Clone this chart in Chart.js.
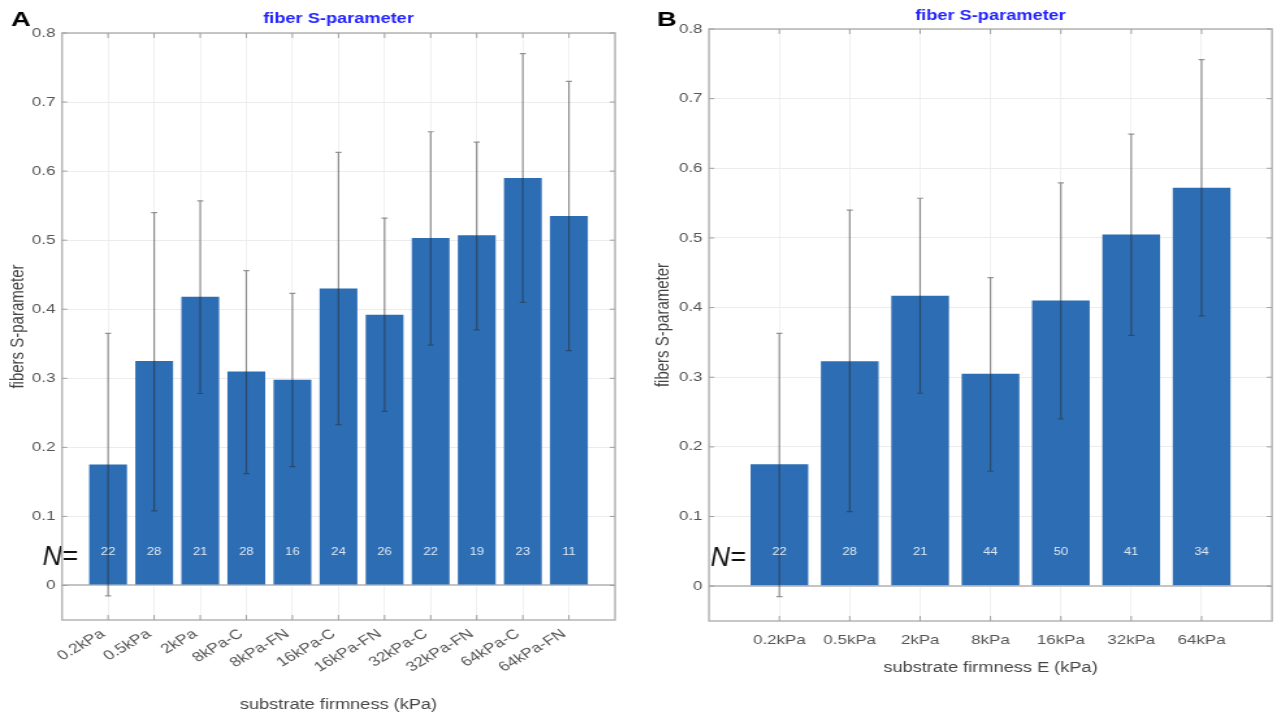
<!DOCTYPE html>
<html>
<head>
<meta charset="utf-8">
<script src="https://cdn.jsdelivr.net/npm/chart.js@4.4.1/dist/chart.umd.min.js"></script>
<style>
  body { margin: 0; background: #fff; overflow: hidden; }
  #wrap { position: relative; width: 1276px; height: 714px; }
  .panel { position: absolute; top: 0; height: 714px; transform-origin: 0 0; }
</style>
</head>
<body>
<div id="wrap">
  <div class="panel" id="pA"><canvas id="chartA"></canvas></div>
  <div class="panel" id="pB"><canvas id="chartB"></canvas></div>
</div>
<script>
// panel A: all conditions
const labelsA = ["0.2kPa", "0.5kPa", "2kPa", "8kPa-C", "8kPa-FN", "16kPa-C", "16kPa-FN", "32kPa-C", "32kPa-FN", "64kPa-C", "64kPa-FN"];
const meanA = [0.175, 0.325, 0.418, 0.310, 0.298, 0.430, 0.392, 0.503, 0.507, 0.590, 0.535];
const lowA  = [-0.015, 0.108, 0.278, 0.162, 0.172, 0.233, 0.252, 0.348, 0.370, 0.410, 0.340];
const highA = [0.365, 0.540, 0.557, 0.456, 0.423, 0.627, 0.532, 0.657, 0.642, 0.770, 0.730];
const countA = [22, 28, 21, 28, 16, 24, 26, 22, 19, 23, 11];

// panel B: pooled by stiffness
const labelsB = ["0.2kPa", "0.5kPa", "2kPa", "8kPa", "16kPa", "32kPa", "64kPa"];
const meanB = [0.175, 0.323, 0.417, 0.305, 0.410, 0.505, 0.572];
const lowB  = [-0.015, 0.107, 0.277, 0.165, 0.240, 0.360, 0.388];
const highB = [0.363, 0.540, 0.557, 0.443, 0.579, 0.649, 0.756];
const countB = [22, 28, 21, 44, 50, 41, 34];

const yTicks = [0, 0.1, 0.2, 0.3, 0.4, 0.5, 0.6, 0.7, 0.8];

const FONT = "'Liberation Sans', Arial, Helvetica, sans-serif";
const BAR = '#2d6db4';
// the source figure is stretched sideways, so each panel is drawn narrow and widened with css
const SX = 1.3;

const pA = document.getElementById('pA');
pA.style.left = '0px'; pA.style.width = (640 / SX) + 'px'; pA.style.transform = 'scaleX(' + SX + ')';
const pB = document.getElementById('pB');
pB.style.left = '640px'; pB.style.width = (636 / SX) + 'px'; pB.style.transform = 'scaleX(' + SX + ')';

// error bars, N= counts, title, box and inner ticks
const extras = {
  id: 'extras',
  afterDatasetsDraw(chart, args, o) {
    const ctx = chart.ctx, xs = chart.scales.x, ys = chart.scales.y;
    const a = chart.chartArea;
    ctx.save();
    // error bars
    ctx.strokeStyle = 'rgba(40,40,40,0.5)';
    ctx.lineWidth = 1.2;
    o.low.forEach((lo, i) => {
      const x = xs.getPixelForValue(i + 1);
      const y1 = ys.getPixelForValue(lo), y2 = ys.getPixelForValue(o.high[i]);
      ctx.beginPath();
      ctx.moveTo(x, y1); ctx.lineTo(x, y2);
      ctx.moveTo(x - 2.3, y1); ctx.lineTo(x + 2.3, y1);
      ctx.moveTo(x - 2.3, y2); ctx.lineTo(x + 2.3, y2);
      ctx.stroke();
    });
    // counts inside bars
    ctx.fillStyle = 'rgba(255,255,255,0.85)';
    ctx.font = '10px ' + FONT;
    ctx.textAlign = 'center';
    ctx.textBaseline = 'middle';
    o.counts.forEach((n, i) => {
      ctx.fillText(String(n), xs.getPixelForValue(i + 1), ys.getPixelForValue(0.048));
    });
    // N= label, drawn without the sideways stretch
    ctx.save();
    ctx.scale(1 / SX, 1);
    ctx.fillStyle = '#111';
    ctx.font = 'italic 27px ' + FONT;
    ctx.textAlign = 'left';
    ctx.fillText('N=', xs.getPixelForValue(o.nX) * SX, ys.getPixelForValue(0.04));
    ctx.restore();
    // box
    ctx.strokeStyle = '#b4b4b4';
    ctx.lineWidth = 1.5;
    ctx.strokeRect(a.left, a.top, a.right - a.left, a.bottom - a.top);
    // inner tick marks, matlab style
    ctx.lineWidth = 1;
    ctx.strokeStyle = '#a0a0a0';
    ctx.beginPath();
    for (let i = 1; i <= o.counts.length; i++) {
      const x = xs.getPixelForValue(i);
      ctx.moveTo(x, a.top); ctx.lineTo(x, a.top + 5);
      ctx.moveTo(x, a.bottom); ctx.lineTo(x, a.bottom - 5);
    }
    yTicks.forEach(v => {
      const y = ys.getPixelForValue(v);
      ctx.moveTo(a.left, y); ctx.lineTo(a.left + 4, y);
      ctx.moveTo(a.right, y); ctx.lineTo(a.right - 4, y);
    });
    ctx.stroke();
    // title and panel letter
    ctx.fillStyle = '#2222ff';
    ctx.font = 'bold 14px ' + FONT;
    ctx.textAlign = 'center';
    ctx.fillText('fiber S-parameter', (a.left + a.right) / 2, o.titleY);
    ctx.fillStyle = '#000';
    ctx.font = 'bold 21px ' + FONT;
    ctx.textAlign = 'left';
    ctx.fillText(o.letter, o.letterX / SX, 20);
    ctx.restore();
  }
};

function makeChart(id, labels, mean, low, high, counts, opt) {
  const pts = mean.map((v, i) => ({ x: i + 1, y: v }));
  const pad = opt.padding;
  return new Chart(document.getElementById(id), {
    type: 'bar',
    data: {
      datasets: [{
        data: pts,
        backgroundColor: BAR,
        borderWidth: 0,
        barPercentage: 0.82,
        categoryPercentage: 1
      }]
    },
    plugins: [extras],
    options: {
      responsive: true,
      maintainAspectRatio: false,
      animation: false,
      layout: { padding: { left: 0, right: pad.right / SX, top: pad.top, bottom: pad.bottom } },
      plugins: {
        legend: { display: false },
        tooltip: { enabled: false },
        extras: { low: low, high: high, counts: counts, letter: opt.letter, letterX: opt.letterX, nX: opt.nX, titleY: opt.titleY }
      },
      scales: {
        x: {
          type: 'linear',
          offset: false,
          min: 0,
          max: labels.length + 1,
          afterFit: s => { s.height = opt.xHeight; },
          afterBuildTicks: s => { s.ticks = labels.map((l, i) => ({ value: i + 1 })); },
          ticks: {
            autoSkip: false,
            minRotation: opt.rot,
            maxRotation: opt.rot,
            padding: opt.xPad,
            labelOffset: opt.labelShift / SX,
            color: '#555',
            font: { family: FONT, size: opt.xFont },
            callback: v => labels[v - 1] || ''
          },
          grid: { color: '#ececec', lineWidth: 0.8, drawTicks: false, offset: false },
          border: { display: false },
          title: {
            display: true,
            text: opt.xTitle,
            color: '#444',
            font: { family: FONT, size: 14 },
            padding: { top: 0, bottom: opt.xTitlePad }
          }
        },
        y: {
          min: -0.05,
          max: 0.8,
          afterFit: s => { s.width = opt.yWidth / SX; },
          afterBuildTicks: s => { s.ticks = yTicks.map(v => ({ value: v })); },
          ticks: {
            padding: 5,
            color: '#555',
            font: { family: FONT, size: 13 },
            callback: v => String(Math.round(v * 10) / 10)
          },
          grid: {
            drawTicks: false,
            color: c => c.tick && c.tick.value === 0 ? '#c4c4c4' : '#ececec',
            lineWidth: c => c.tick && c.tick.value === 0 ? 2 : 1
          },
          border: { display: false },
          title: {
            display: true,
            text: 'fibers S-parameter',
            color: '#444',
            font: { family: FONT, size: 15 },
            padding: { top: opt.yTitlePad, bottom: 0 }
          }
        }
      }
    }
  });
}

makeChart('chartA', labelsA, meanA, lowA, highA, countA, {
  padding: { right: 25, top: 33, bottom: 0 },
  yWidth: 62, xHeight: 94, rot: 37, xPad: 6, labelShift: -5, xFont: 13.5,
  xTitle: 'substrate firmness (kPa)', xTitlePad: 0,
  yTitlePad: 5, letter: 'A', letterX: 11, nX: -0.42, titleY: 19
});

makeChart('chartB', labelsB, meanB, lowB, highB, countB, {
  padding: { right: 4, top: 29, bottom: 36 },
  yWidth: 69, xHeight: 57, rot: 0, xPad: 12, labelShift: 0, xFont: 13,
  xTitle: 'substrate firmness E (kPa)', xTitlePad: 1,
  yTitlePad: 9, letter: 'B', letterX: 17, nX: 0.02, titleY: 16
});
</script>
</body>
</html>
